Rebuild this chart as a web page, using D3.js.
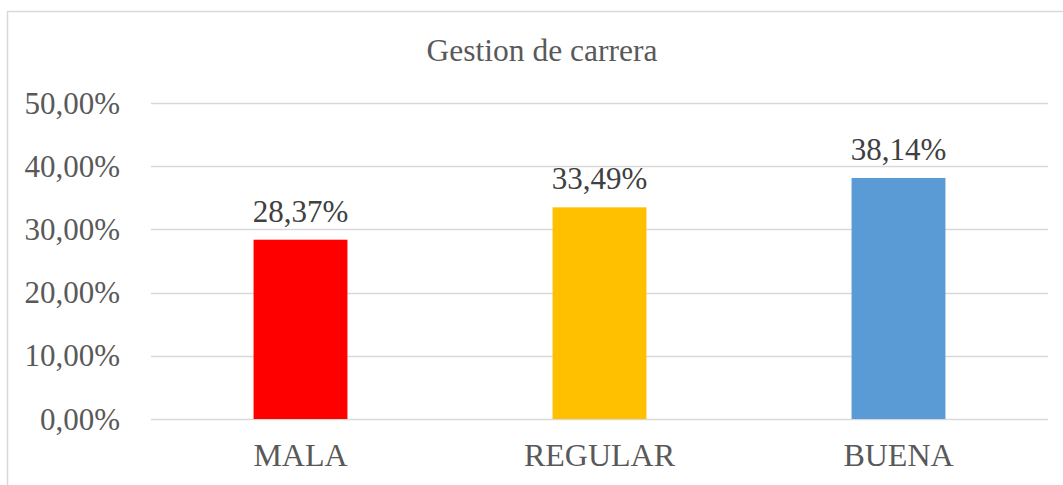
<!DOCTYPE html>
<html>
<head>
<meta charset="utf-8">
<script src="https://cdn.jsdelivr.net/npm/d3@7"></script>
<style>
  html, body { margin: 0; padding: 0; background: #fff; }
  svg { display: block; font-family: 'Liberation Serif', 'Times New Roman', serif; }
</style>
</head>
<body>
<svg width="1063" height="485"></svg>
<script>
const categories = ['MALA', 'REGULAR', 'BUENA'];
const values = [0.2837, 0.3349, 0.3814];
const barColors = ['#ff0000', '#ffc000', '#5b9bd5'];
const yTicks = [0, 0.1, 0.2, 0.3, 0.4, 0.5];
const title = 'Gestion de carrera';

const svg = d3.select('svg');
const margin = {left: 151, right: 15, top: 103, bottom: 66};
const width = +svg.attr('width');
const height = +svg.attr('height');

const fmt = v => (v * 100).toFixed(2).replace('.', ',') + '%';

// chart frame (runs off right and bottom edges)
svg.append('rect')
    .attr('x', 7.5)
    .attr('y', 11.5)
    .attr('width', 1200)
    .attr('height', 600)
    .attr('fill', 'none')
    .attr('stroke', '#d9d9d9')
    .attr('stroke-width', 1.5);

const x = d3.scaleBand()
    .domain(categories)
    .range([margin.left, width - margin.right])
    .paddingInner(0.686)
    .paddingOuter(0.343);

const y = d3.scaleLinear()
    .domain([0, 0.5])
    .range([height - margin.bottom, margin.top]);

// gridlines
svg.append('g')
    .selectAll('line')
    .data(yTicks)
    .enter().append('line')
    .attr('x1', margin.left)
    .attr('x2', width - margin.right)
    .attr('y1', d => Math.round(y(d)) + 0.5)
    .attr('y2', d => Math.round(y(d)) + 0.5)
    .attr('stroke', '#d9d9d9')
    .attr('stroke-width', 1.5);

// y labels
svg.append('g')
    .selectAll('text')
    .data(yTicks)
    .enter().append('text')
    .attr('x', 120)
    .attr('y', d => y(d))
    .attr('dy', '0.34em')
    .attr('text-anchor', 'end')
    .attr('font-size', 31)
    .attr('fill', '#595959')
    .text(fmt);

// bars
svg.append('g')
    .selectAll('rect')
    .data(values)
    .enter().append('rect')
    .attr('x', (d, i) => x(categories[i]))
    .attr('width', x.bandwidth())
    .attr('y', d => y(d))
    .attr('height', d => y(0) - y(d))
    .attr('fill', (d, i) => barColors[i]);

// value labels
svg.append('g')
    .selectAll('text')
    .data(values)
    .enter().append('text')
    .attr('x', (d, i) => x(categories[i]) + x.bandwidth() / 2)
    .attr('y', d => y(d) - 18)
    .attr('text-anchor', 'middle')
    .attr('font-size', 31)
    .attr('fill', '#404040')
    .text(fmt);

// category labels
svg.append('g')
    .selectAll('text')
    .data(categories)
    .enter().append('text')
    .attr('x', d => x(d) + x.bandwidth() / 2)
    .attr('y', 466)
    .attr('text-anchor', 'middle')
    .attr('font-size', 32)
    .attr('fill', '#595959')
    .text(d => d);

// title
svg.append('text')
    .attr('x', 542)
    .attr('y', 61)
    .attr('text-anchor', 'middle')
    .attr('font-size', 31.5)
    .attr('fill', '#595959')
    .text(title);
</script>
</body>
</html>
